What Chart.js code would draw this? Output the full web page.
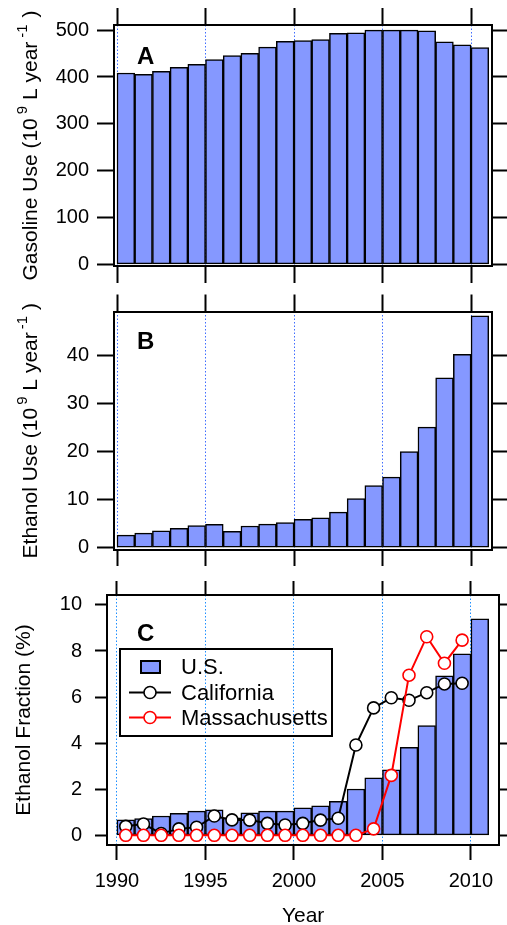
<!DOCTYPE html>
<html>
<head>
<meta charset="utf-8">
<script src="https://cdn.jsdelivr.net/npm/chart.js@4.4.1/dist/chart.umd.min.js"></script>
<style>
body { margin: 0; background: #fff; }
#wrap { position: relative; width: 507px; height: 925px; overflow: hidden; }
canvas { position: absolute; left: 0; }
</style>
</head>
<body>
<div id="wrap">
<canvas id="chartA" width="507" height="286" style="top:0px"></canvas>
<canvas id="chartB" width="507" height="284" style="top:286px"></canvas>
<canvas id="chartC" width="507" height="355" style="top:570px"></canvas>
</div>
<script>
// data
var years = [1990, 1991, 1992, 1993, 1994, 1995, 1996, 1997, 1998, 1999, 2000,
             2001, 2002, 2003, 2004, 2005, 2006, 2007, 2008, 2009, 2010];
var xTicks = [1990, 1995, 2000, 2005, 2010];
var gasolineTicks = [0, 100, 200, 300, 400, 500];
var ethanolTicks = [0, 10, 20, 30, 40];
var fractionTicks = [0, 2, 4, 6, 8, 10];

var gasolineUse = [408.6, 405.8, 412, 420.7, 427, 437, 445.5, 450.4, 463.9, 476, 478,
                   480, 493, 494.3, 500, 500, 500, 498.6, 475, 468.8, 463];
var ethanolUse = [2.6, 3.0, 3.5, 4.0, 4.6, 4.85, 3.4, 4.5, 4.9, 5.2, 5.9,
                  6.2, 7.4, 10.2, 12.9, 14.7, 20.0, 25.1, 35.4, 40.3, 48.3];
var usFraction = [0.67, 0.73, 0.84, 0.95, 1.05, 1.11, 0.76, 0.98, 1.05, 1.05, 1.19,
                  1.28, 1.47, 2.01, 2.49, 2.84, 3.82, 4.76, 6.92, 7.88, 9.40];
var california = [0.39, 0.49, 0.08, 0.28, 0.35, 0.84, 0.67, 0.66, 0.52, 0.45, 0.52,
                  0.66, 0.74, 3.92, 5.53, 5.97, 5.86, 6.19, 6.57, 6.60];
var massachusetts = [0, 0, 0, 0, 0, 0, 0, 0, 0, 0, 0,
                     0, 0, 0, 0.28, 2.60, 6.95, 8.62, 7.47, 8.47];
var seriesNames = ['U.S.', 'California', 'Massachusetts'];

var FONT = '"Liberation Sans", Arial, Helvetica, sans-serif';
Chart.defaults.font.family = FONT;
Chart.defaults.font.size = 20;
Chart.defaults.color = '#000';

var BAR_FILL = '#8598ff';
var TITLE_PX = 21;

function pts(vals) {
  return vals.map(function(v, i) { return { x: years[i] + 0.5, y: v }; });
}

function barSet(label, vals) {
  return {
    type: 'bar', label: label, data: pts(vals), order: 3,
    xAxisID: 'x', yAxisID: 'y',
    backgroundColor: BAR_FILL, borderColor: '#000', borderWidth: 1.5,
    borderSkipped: false, barPercentage: 1, categoryPercentage: 1
  };
}

function lineSet(label, vals, color, order) {
  return {
    type: 'line', label: label, data: pts(vals), order: order,
    xAxisID: 'x', yAxisID: 'y',
    borderColor: color, borderWidth: 2, tension: 0,
    pointRadius: 6, pointBorderWidth: 1.6,
    pointBackgroundColor: '#fff', pointBorderColor: color
  };
}

// panel letter, y title with superscripts, optional legend
var decorPlugin = {
  id: 'decor',
  afterDraw: function(chart, args, o) {
    var ctx = chart.ctx, area = chart.chartArea;
    ctx.save();
    ctx.fillStyle = '#000';
    ctx.textAlign = 'left';
    ctx.textBaseline = 'alphabetic';
    ctx.font = 'bold 24px ' + FONT;
    ctx.fillText(o.letter, o.letterX, area.top + o.letterDy);

    // rotated title
    var total = 0;
    o.title.forEach(function(p) {
      ctx.font = (p.sup ? 15 : TITLE_PX) + 'px ' + FONT;
      total += (p.gap || 0) + ctx.measureText(p.t).width;
    });
    ctx.translate(o.titleX, (area.top + area.bottom) / 2);
    ctx.rotate(-Math.PI / 2);
    var x = -total / 2;
    o.title.forEach(function(p) {
      ctx.font = (p.sup ? 15 : TITLE_PX) + 'px ' + FONT;
      x += (p.gap || 0);
      ctx.fillText(p.t, x, p.sup ? -10 : 0);
      x += ctx.measureText(p.t).width;
    });
    ctx.restore();

    if (o.legend) {
      var L = o.legend;
      ctx.save();
      ctx.lineWidth = 2;
      ctx.strokeStyle = '#000';
      ctx.strokeRect(L.x, L.y, L.w, L.h);
      ctx.font = '22px ' + FONT;
      ctx.textBaseline = 'middle';
      chart.data.datasets.forEach(function(ds, i) {
        var y = L.rows[i];
        if (ds.type === 'bar') {
          ctx.fillStyle = ds.backgroundColor;
          ctx.fillRect(L.x + 21, y - 6, 19, 12);
          ctx.lineWidth = 2;
          ctx.strokeStyle = '#000';
          ctx.strokeRect(L.x + 21, y - 6, 19, 12);
        } else {
          ctx.lineWidth = ds.borderWidth;
          ctx.strokeStyle = ds.borderColor;
          ctx.beginPath();
          ctx.moveTo(L.x + 9, y);
          ctx.lineTo(L.x + 51, y);
          ctx.stroke();
          ctx.beginPath();
          ctx.arc(L.x + 30, y, 6, 0, Math.PI * 2);
          ctx.fillStyle = '#fff';
          ctx.fill();
          ctx.lineWidth = 1.6;
          ctx.stroke();
        }
        ctx.fillStyle = '#000';
        ctx.fillText(ds.label, L.x + 61, y + 1);
      });
      ctx.restore();
    }
  }
};

function fixed(value, key) {
  return function(s) { s[key] = value; };
}

function tickList(list) {
  return function(a) { a.ticks = list.map(function(v) { return { value: v }; }); };
}

function makeChart(id, c) {
  var tickFont = { size: 20 };
  var scales = {
    x: {
      type: 'linear', position: 'bottom', min: c.xmin, max: c.xmax, offset: false,
      afterBuildTicks: tickList(xTicks), afterFit: fixed(c.bottom, 'height'),
      ticks: { display: !!c.xLabels, autoSkip: false, maxRotation: 0, padding: 9, font: tickFont,
               callback: function(v) { return String(v); } },
      grid: { offset: false, drawOnChartArea: true, color: c.gridColor, lineWidth: 1,
              drawTicks: true, tickLength: c.tickBottom, tickColor: '#000', tickWidth: 2,
              tickBorderDash: [] },
      border: { display: true, color: '#000', width: 2, dash: [1.5, 2] },
      title: c.xTitle ? { display: true, text: c.xTitle, font: { size: TITLE_PX, lineHeight: 1 },
                          padding: { top: 0, bottom: -2 } } : { display: false }
    },
    y: {
      type: 'linear', position: 'left', min: c.ymin, max: c.ymax,
      afterBuildTicks: tickList(c.yTicks), afterFit: fixed(c.left, 'width'),
      ticks: { padding: c.labelPad, font: tickFont, callback: function(v) { return String(v); } },
      grid: { drawOnChartArea: false, drawTicks: true, tickLength: c.tickLeft,
              tickColor: '#000', tickWidth: 2, color: '#000' },
      border: { display: true, color: '#000', width: 2 }
    },
    x2: {
      type: 'linear', position: 'top', min: c.xmin, max: c.xmax, offset: false,
      afterBuildTicks: tickList(xTicks), afterFit: fixed(c.top, 'height'),
      ticks: { display: false },
      grid: { offset: false, drawOnChartArea: false, drawTicks: true, tickLength: c.tickTop,
              tickColor: '#000', tickWidth: 2, color: '#000' },
      border: { display: true, color: '#000', width: 2 }
    },
    y2: {
      type: 'linear', position: 'right', min: c.ymin, max: c.ymax,
      afterBuildTicks: tickList(c.yTicks), afterFit: fixed(c.right, 'width'),
      ticks: { display: false },
      grid: { drawOnChartArea: false, drawTicks: true, tickLength: c.tickRight,
              tickColor: '#000', tickWidth: 2, color: '#000' },
      border: { display: true, color: '#000', width: 2 }
    }
  };
  return new Chart(document.getElementById(id), {
    type: 'bar',
    data: { datasets: c.datasets },
    options: {
      responsive: false, animation: false, events: [],
      layout: { padding: 0 },
      scales: scales,
      plugins: { legend: { display: false }, tooltip: { enabled: false }, decor: c.decor }
    },
    plugins: [decorPlugin]
  });
}

makeChart('chartA', {
  xmin: 1989.83, xmax: 2011.2, ymin: -3.5, ymax: 511, yTicks: gasolineTicks,
  top: 25, bottom: 18.5, left: 114, right: 14.7,
  tickTop: 17, tickBottom: 17, tickLeft: 17, tickRight: 15, labelPad: 8,
  gridColor: '#3f6dff',
  datasets: [barSet('U.S.', gasolineUse)],
  decor: {
    letter: 'A', letterX: 137, letterDy: 39, titleX: 37,
    title: [{ t: 'Gasoline Use (10' }, { t: '9', sup: true, gap: 4 }, { t: ' L year' },
            { t: '-1', sup: true, gap: 4 }, { t: ' )', gap: 1 }]
  }
});

makeChart('chartB', {
  xmin: 1989.83, xmax: 2011.2, ymin: -0.5, ymax: 49.2, yTicks: ethanolTicks,
  top: 25.5, bottom: 16, left: 114, right: 14.7,
  tickTop: 17, tickBottom: 16, tickLeft: 17, tickRight: 15, labelPad: 8,
  gridColor: '#3f6dff',
  datasets: [barSet('U.S.', ethanolUse)],
  decor: {
    letter: 'B', letterX: 137, letterDy: 37.5, titleX: 37,
    title: [{ t: 'Ethanol Use (10' }, { t: '9', sup: true, gap: 3 }, { t: ' L year' },
            { t: '-1', sup: true, gap: 3 }, { t: ' )', gap: 0 }]
  }
});

makeChart('chartC', {
  xmin: 1989.44, xmax: 2011.6, ymin: -0.42, ymax: 10.43, yTicks: fractionTicks,
  top: 17.5, bottom: 80, left: 107, right: 7.7,
  tickTop: 14, tickBottom: 15, tickLeft: 12, tickRight: 8, labelPad: 13,
  gridColor: '#1e8fff', xLabels: true, xTitle: 'Year',
  datasets: [
    barSet(seriesNames[0], usFraction),
    lineSet(seriesNames[1], california, '#000', 2),
    lineSet(seriesNames[2], massachusetts, '#ff0000', 1)
  ],
  decor: {
    letter: 'C', letterX: 137, letterDy: 45.5, titleX: 30,
    title: [{ t: 'Ethanol Fraction (%)' }],
    legend: { x: 120, y: 79, w: 212, h: 87, rows: [97, 122.5, 147.5] }
  }
});
</script>
</body>
</html>
